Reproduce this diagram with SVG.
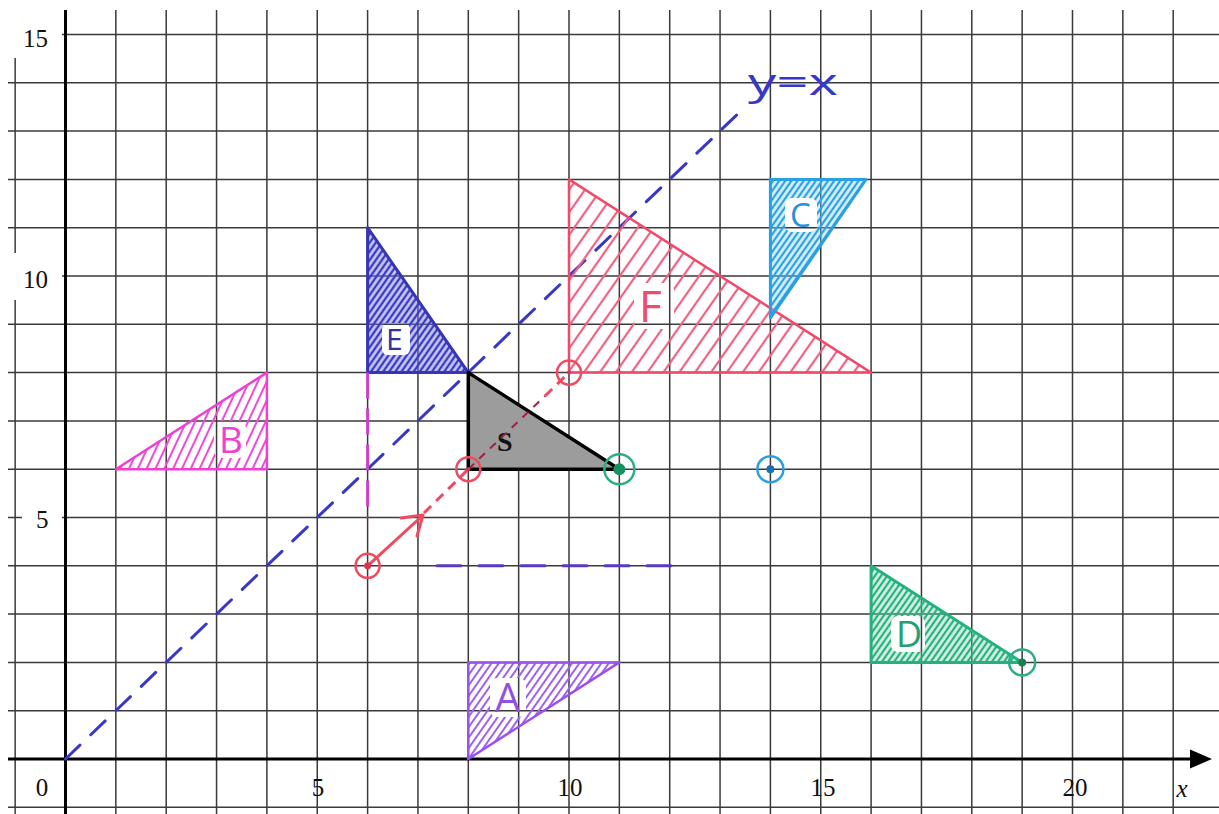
<svg xmlns="http://www.w3.org/2000/svg" width="1219" height="814" viewBox="0 0 1219 814">
<style>
.grid{stroke:#3a3a3a;stroke-width:1.5;fill:none}
.axis{stroke:#000;stroke-width:3;fill:none}
.num{font-family:"Liberation Serif",serif;font-size:25px;fill:#111}
.lbl{font-family:"Open Sans","Liberation Sans",sans-serif;font-weight:400}
.edge{fill:none;stroke-linejoin:round}
</style>
<defs>
<pattern id="hF" patternUnits="userSpaceOnUse" width="13" height="13" patternTransform="rotate(35)"><line x1="3" y1="0" x2="3" y2="13" stroke="#f26080" stroke-width="2.2"/></pattern>
<pattern id="hE" patternUnits="userSpaceOnUse" width="5" height="5" patternTransform="rotate(35)"><line x1="2" y1="0" x2="2" y2="5" stroke="#3a3ac8" stroke-width="2.4"/></pattern>
<pattern id="hC" patternUnits="userSpaceOnUse" width="5" height="5" patternTransform="rotate(35)"><line x1="2" y1="0" x2="2" y2="5" stroke="#2aa2e6" stroke-width="2.2"/></pattern>
<pattern id="hD" patternUnits="userSpaceOnUse" width="5" height="5" patternTransform="rotate(35)"><line x1="2" y1="0" x2="2" y2="5" stroke="#28b080" stroke-width="2.2"/></pattern>
<pattern id="hB" patternUnits="userSpaceOnUse" width="8" height="8" patternTransform="rotate(25)"><line x1="3" y1="0" x2="3" y2="8" stroke="#f04ad8" stroke-width="2"/></pattern>
<pattern id="hA" patternUnits="userSpaceOnUse" width="6" height="6" patternTransform="rotate(35)"><line x1="3" y1="0" x2="3" y2="6" stroke="#a060f0" stroke-width="2"/></pattern>
<mask id="mF"><rect width="1219" height="814" fill="#fff"/><rect x="634" y="283" width="40" height="46" rx="8" fill="#000"/></mask>
<mask id="mC"><rect width="1219" height="814" fill="#fff"/><rect x="785" y="198" width="32" height="34" rx="7" fill="#000"/></mask>
<mask id="mE"><rect width="1219" height="814" fill="#fff"/><rect x="382" y="323" width="28" height="32" rx="6" fill="#000"/></mask>
<mask id="mB"><rect width="1219" height="814" fill="#fff"/><rect x="214" y="421" width="32" height="37" rx="7" fill="#000"/></mask>
<mask id="mD"><rect width="1219" height="814" fill="#fff"/><rect x="891" y="616" width="34" height="36" rx="7" fill="#000"/></mask>
<mask id="mA"><rect width="1219" height="814" fill="#fff"/><rect x="490" y="678" width="36" height="39" rx="7" fill="#000"/></mask>
</defs>
<rect width="1219" height="814" fill="#fff"/>

<g id="grid">
<path class="grid" d="M115.85 10V814M166.2 10V814M216.55 10V814M266.9 10V814M317.25 10V814M367.6 10V814M417.95 10V814M468.3 10V814M518.65 10V814M569 10V814M619.35 10V814M669.7 10V814M720.05 10V814M770.4 10V814M820.75 10V814M871.1 10V814M921.45 10V814M971.8 10V814M1022.15 10V814M1072.5 10V814M1122.85 10V814M1173.2 10V814M15.15 58V253M15.15 300V814"/>
<path class="grid" d="M62 34.5H1219M8 82.8H1219M8 131.1H1219M8 179.4H1219M8 227.7H1219M62 276H1219M8 324.3H1219M8 372.6H1219M8 420.9H1219M8 469.2H1219M8 517.5H22M62 517.5H1219M8 565.8H1219M8 614.1H1219M8 662.4H1219M8 710.7H1219M8 807.3H1219"/>
</g>

<g id="axes">
<line class="axis" x1="65.5" y1="10" x2="65.5" y2="814"/>
<line class="axis" x1="8" y1="759" x2="1195" y2="759"/>
<polygon points="1190,749.5 1212,759 1190,768.5" fill="#000"/>
<text class="num" x="23" y="47">15</text>
<text class="num" x="23" y="288">10</text>
<text class="num" x="36" y="528">5</text>
<text class="num" x="42" y="796" text-anchor="middle">0</text>
<text class="num" x="318" y="796" text-anchor="middle">5</text>
<text class="num" x="570" y="796" text-anchor="middle">10</text>
<text class="num" x="823" y="796" text-anchor="middle">15</text>
<text class="num" x="1075" y="796" text-anchor="middle">20</text>
<text class="num" x="1182" y="797" text-anchor="middle" font-style="italic">x</text>
</g>

<g id="line-yx">
<line x1="65.5" y1="759" x2="745" y2="107" stroke="#3838c8" stroke-width="3" stroke-dasharray="20 15" stroke-linecap="round"/>
<text class="lbl" x="748" y="95" font-size="36" fill="#3838c8" textLength="90" lengthAdjust="spacingAndGlyphs">y=x</text>
</g>

<g id="F">
<polygon points="569,179.4 569,372.6 871.1,372.6" fill="url(#hF)" mask="url(#mF)"/>
<polygon class="edge" points="569,179.4 569,372.6 871.1,372.6" stroke="#f04a6a" stroke-width="2.5"/>
<text class="lbl" x="639" y="322" font-size="44" fill="#f04a6a">F</text>
</g>

<g id="C">
<g mask="url(#mC)">
<polygon points="770.4,179.4 866,179.4 770.4,318" fill="#8fd0f4" fill-opacity="0.35"/>
<polygon points="770.4,179.4 866,179.4 770.4,318" fill="url(#hC)"/>
</g>
<polygon class="edge" points="770.4,179.4 866,179.4 770.4,318" stroke="#2aa0e0" stroke-width="3"/>
<text class="lbl" x="790" y="227" font-size="33" fill="#2a90d8">C</text>
</g>

<g id="E">
<g mask="url(#mE)">
<polygon points="367.6,227.7 367.6,372.6 468.3,372.6" fill="#8080e0" fill-opacity="0.4"/>
<polygon points="367.6,227.7 367.6,372.6 468.3,372.6" fill="url(#hE)"/>
</g>
<polygon class="edge" points="367.6,227.7 367.6,372.6 468.3,372.6" stroke="#3535b5" stroke-width="3"/>
<text class="lbl" x="386" y="350" font-size="30" fill="#3030a8">E</text>
</g>

<g id="S">
<polygon points="468.3,372.6 468.3,469.2 619.35,469.2" fill="#9c9c9c" stroke="#000" stroke-width="3.5" stroke-linejoin="round"/>
<text x="497" y="451" font-family="Liberation Serif,serif" font-weight="bold" font-size="28" fill="#111">S</text>
</g>

<g id="B">
<polygon points="115.85,469.2 266.9,469.2 266.9,372.6" fill="url(#hB)" mask="url(#mB)"/>
<polygon class="edge" points="115.85,469.2 266.9,469.2 266.9,372.6" stroke="#f040d0" stroke-width="2.5"/>
<text class="lbl" x="219" y="453" font-size="37" fill="#f040d0">B</text>
</g>

<g id="D">
<g mask="url(#mD)">
<polygon points="871.1,565.8 871.1,662.4 1022.15,662.4" fill="#80d8b0" fill-opacity="0.35"/>
<polygon points="871.1,565.8 871.1,662.4 1022.15,662.4" fill="url(#hD)"/>
</g>
<polygon class="edge" points="871.1,565.8 871.1,662.4 1022.15,662.4" stroke="#25b080" stroke-width="3"/>
<text class="lbl" x="896" y="647" font-size="36" fill="#22a070">D</text>
</g>

<g id="A">
<polygon points="468.3,759 468.3,662.4 619.35,662.4" fill="url(#hA)" mask="url(#mA)"/>
<polygon class="edge" points="468.3,759 468.3,662.4 619.35,662.4" stroke="#9a50ee" stroke-width="2.5"/>
<text class="lbl" x="495" y="712" font-size="40" fill="#9050e0">A</text>
</g>

<g id="connectors">
<line x1="367.6" y1="372.6" x2="367.6" y2="517.5" stroke="#d040c8" stroke-width="3" stroke-dasharray="26 10"/>
<line x1="437" y1="565.8" x2="680" y2="565.8" stroke="#5a3ac0" stroke-width="3" stroke-dasharray="24 18" stroke-linecap="round"/>
<line x1="367.6" y1="565.8" x2="421" y2="517" stroke="#f04a60" stroke-width="3" stroke-linecap="round"/>
<polyline points="401,518 423,515 417,536" fill="none" stroke="#f04a60" stroke-width="3" stroke-linecap="round" stroke-linejoin="round"/>
<line x1="424" y1="513" x2="468.3" y2="469.2" stroke="#f04a60" stroke-width="3" stroke-dasharray="10 7"/>
<line x1="468.3" y1="469.2" x2="545" y2="396" stroke="#a02040" stroke-width="2" stroke-dasharray="8 7"/>
<line x1="545" y1="396" x2="569" y2="372.6" stroke="#f04a60" stroke-width="3" stroke-dasharray="10 7"/>
</g>

<g id="points">
<circle cx="367.6" cy="565.8" r="12" fill="none" stroke="#f04a60" stroke-width="2.5"/>
<circle cx="367.6" cy="565.8" r="3.5" fill="#e03050"/>
<circle cx="468.3" cy="469.2" r="12" fill="none" stroke="#f04a60" stroke-width="2.5"/>
<circle cx="468.3" cy="469.2" r="2" fill="#e03050"/>
<circle cx="569" cy="372.6" r="12" fill="none" stroke="#f04a60" stroke-width="2.5"/>
<circle cx="569" cy="372.6" r="2" fill="#e03050"/>
<circle cx="619.35" cy="469.2" r="15" fill="none" stroke="#28b080" stroke-width="2.5"/>
<circle cx="619.35" cy="469.2" r="6" fill="#1a9060"/>
<circle cx="770.4" cy="469.2" r="13" fill="none" stroke="#2aa0e0" stroke-width="2.5"/>
<circle cx="770.4" cy="469.2" r="4" fill="#1a6fb0"/>
<circle cx="1022.15" cy="662.4" r="13" fill="none" stroke="#28b080" stroke-width="2.5"/>
<circle cx="1022.15" cy="662.4" r="4" fill="#1a8050"/>
</g>
</svg>
